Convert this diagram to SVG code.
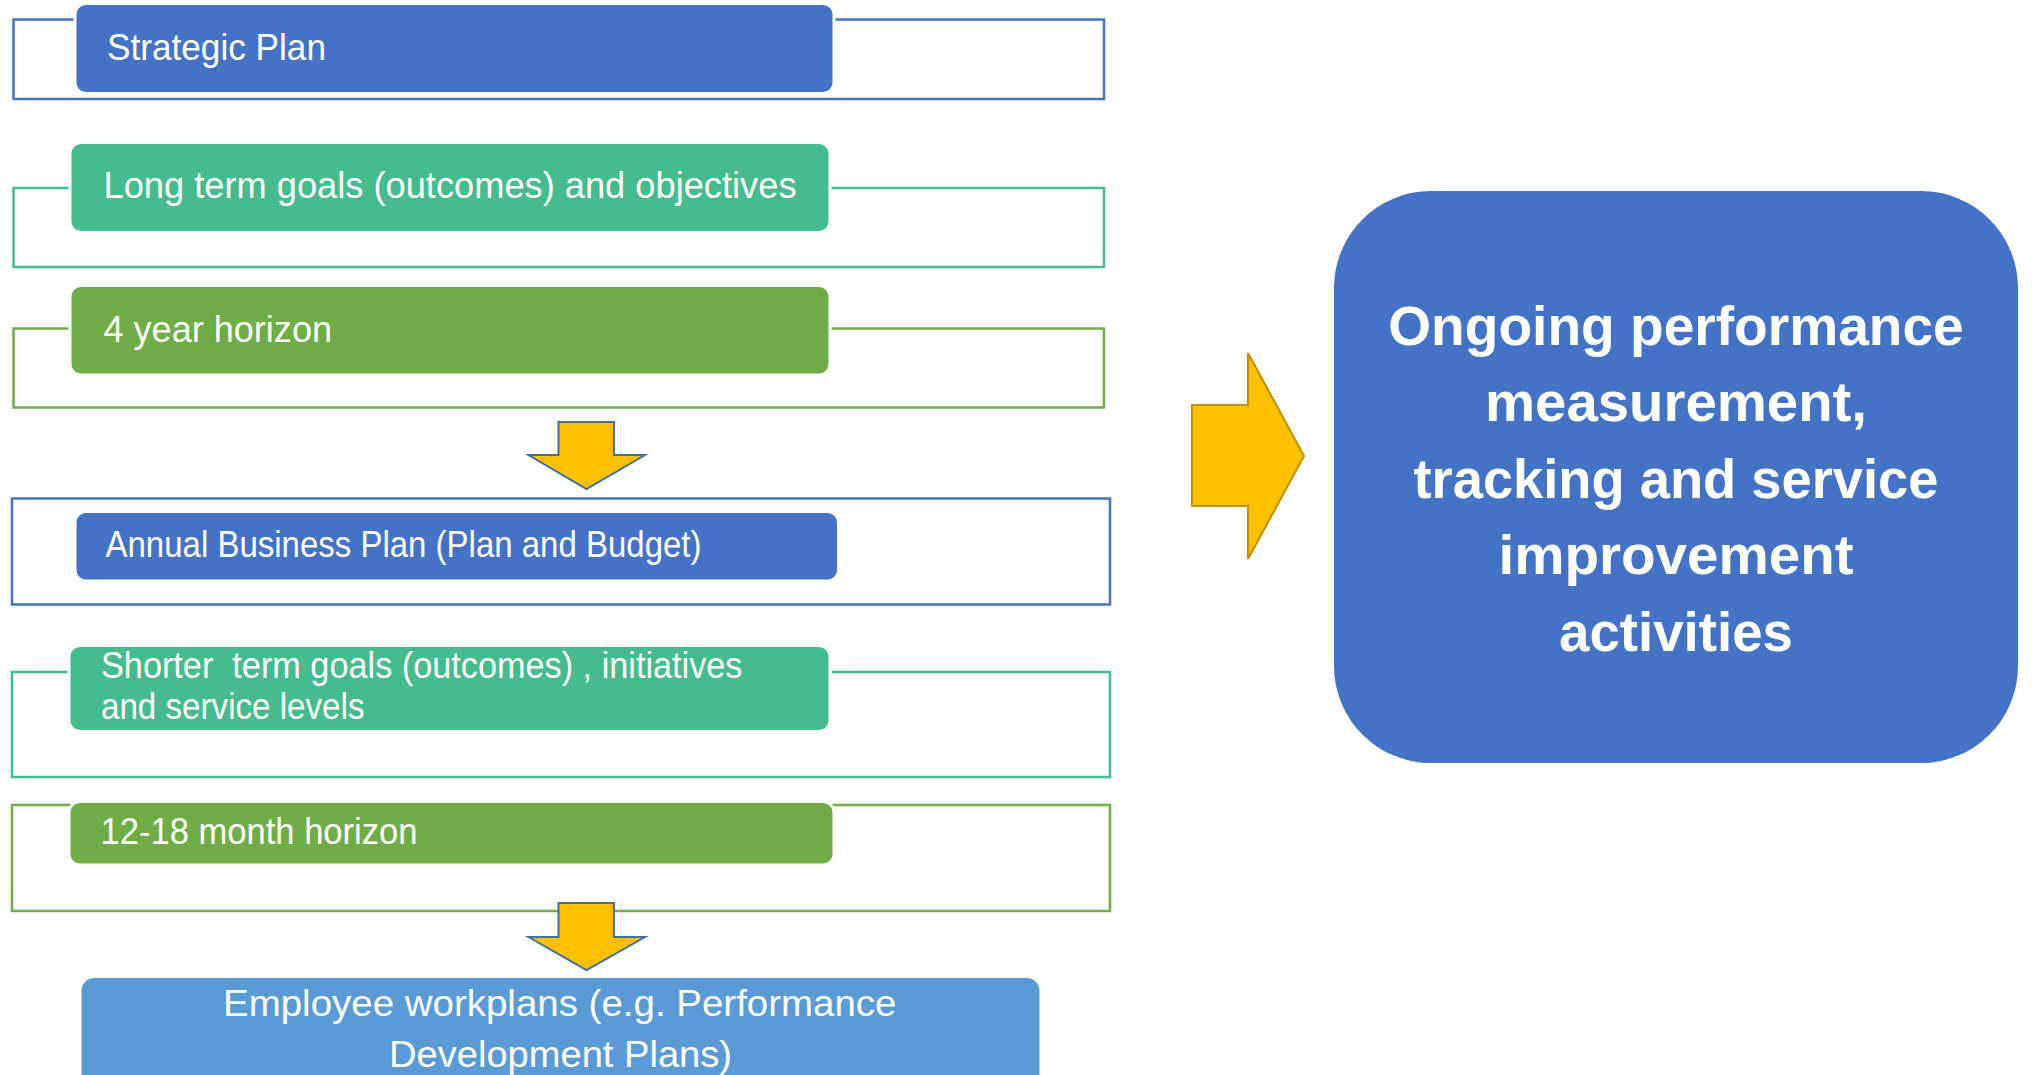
<svg xmlns="http://www.w3.org/2000/svg" width="2034" height="1075" viewBox="0 0 2034 1075">
<style>
.frame{fill:none;stroke-width:2.5}
.box{stroke:#fff;stroke-width:3}
.lbl{font-family:"Liberation Sans",Arial,sans-serif;font-size:36px;fill:#fff;white-space:pre}
.big{font-family:"Liberation Sans",Arial,sans-serif;font-size:55px;font-weight:bold;fill:#fff;text-anchor:middle}
.darr{fill:#FFC000;stroke:#41719C;stroke-width:2}
.rarr{fill:#FFC000;stroke:#BF9000;stroke-width:2}
</style>
<rect width="2034" height="1075" fill="#fff"/>
<g id="frames">
<rect class="frame" x="13.5" y="19.5" width="1090.5" height="79.5" stroke="#4472C4"/>
<rect class="frame" x="13.5" y="188" width="1090.5" height="79" stroke="#45BB8E"/>
<rect class="frame" x="13.5" y="328.5" width="1090.5" height="79" stroke="#70AD47"/>
<rect class="frame" x="12" y="498.5" width="1098" height="106" stroke="#4472C4"/>
<rect class="frame" x="12" y="672" width="1098" height="105" stroke="#45BB8E"/>
<rect class="frame" x="12" y="805" width="1098" height="106" stroke="#70AD47"/>
</g>
<g id="strategic-plan">
<rect class="box" x="75" y="3.5" width="759" height="90" rx="11" fill="#4472C4"/>
<text class="lbl" x="107" y="60" font-size="35" textLength="219" lengthAdjust="spacingAndGlyphs">Strategic Plan</text>
</g>
<g id="long-term-goals">
<rect class="box" x="70" y="142.5" width="760" height="90" rx="11" fill="#45BB8E"/>
<text class="lbl" x="103.5" y="198" textLength="693" lengthAdjust="spacingAndGlyphs">Long term goals (outcomes) and objectives</text>
</g>
<g id="four-year-horizon">
<rect class="box" x="70" y="285.5" width="760" height="89.5" rx="11" fill="#70AD47"/>
<text class="lbl" x="103.5" y="342" textLength="228.5" lengthAdjust="spacingAndGlyphs">4 year horizon</text>
</g>
<g id="annual-business-plan">
<rect class="box" x="75" y="511.5" width="763.5" height="69.5" rx="11" fill="#4472C4"/>
<text class="lbl" x="105.5" y="557" textLength="596" lengthAdjust="spacingAndGlyphs">Annual Business Plan (Plan and Budget)</text>
</g>
<g id="shorter-term-goals">
<rect class="box" x="69" y="645.5" width="761" height="86" rx="11" fill="#45BB8E"/>
<text class="lbl" x="101" y="678" textLength="641.5" lengthAdjust="spacingAndGlyphs">Shorter  term goals (outcomes) , initiatives</text>
<text class="lbl" x="101" y="719" textLength="263.5" lengthAdjust="spacingAndGlyphs">and service levels</text>
</g>
<g id="month-horizon">
<rect class="box" x="69" y="801.5" width="765" height="63.5" rx="11" fill="#70AD47"/>
<text class="lbl" x="100.5" y="843.5" textLength="317" lengthAdjust="spacingAndGlyphs">12-18 month horizon</text>
</g>
<g id="employee-workplans">
<rect class="box" x="80" y="976.5" width="961" height="130" rx="14" fill="#5B9BD5"/>
<text class="lbl" x="223" y="1016" font-size="37" textLength="673.5" lengthAdjust="spacingAndGlyphs">Employee workplans (e.g. Performance</text>
<text class="lbl" x="389" y="1067" font-size="37" textLength="343" lengthAdjust="spacingAndGlyphs">Development Plans)</text>
</g>
<g id="ongoing-performance">
<rect x="1334" y="191" width="684" height="572" rx="97" fill="#4472C4"/>
<text class="big" x="1676" y="345" textLength="575.5" lengthAdjust="spacingAndGlyphs">Ongoing performance</text>
<text class="big" x="1676" y="420.5" textLength="382" lengthAdjust="spacingAndGlyphs">measurement,</text>
<text class="big" x="1676" y="497.5" textLength="525" lengthAdjust="spacingAndGlyphs">tracking and service</text>
<text class="big" x="1676" y="574" textLength="355" lengthAdjust="spacingAndGlyphs">improvement</text>
<text class="big" x="1676" y="650.5" textLength="234" lengthAdjust="spacingAndGlyphs">activities</text>
</g>
<g id="connectors">
<polygon class="darr" points="558.5,422 614,422 614,455 645,455 586.5,489 528.5,455 558.5,455"/>
<polygon class="darr" points="558.5,903 614,903 614,937 645,937 586.5,970 528.5,937 558.5,937"/>
<polygon class="rarr" points="1192,405 1248,405 1248,353 1304,456 1248,559 1248,506 1192,506"/>
</g>
</svg>
